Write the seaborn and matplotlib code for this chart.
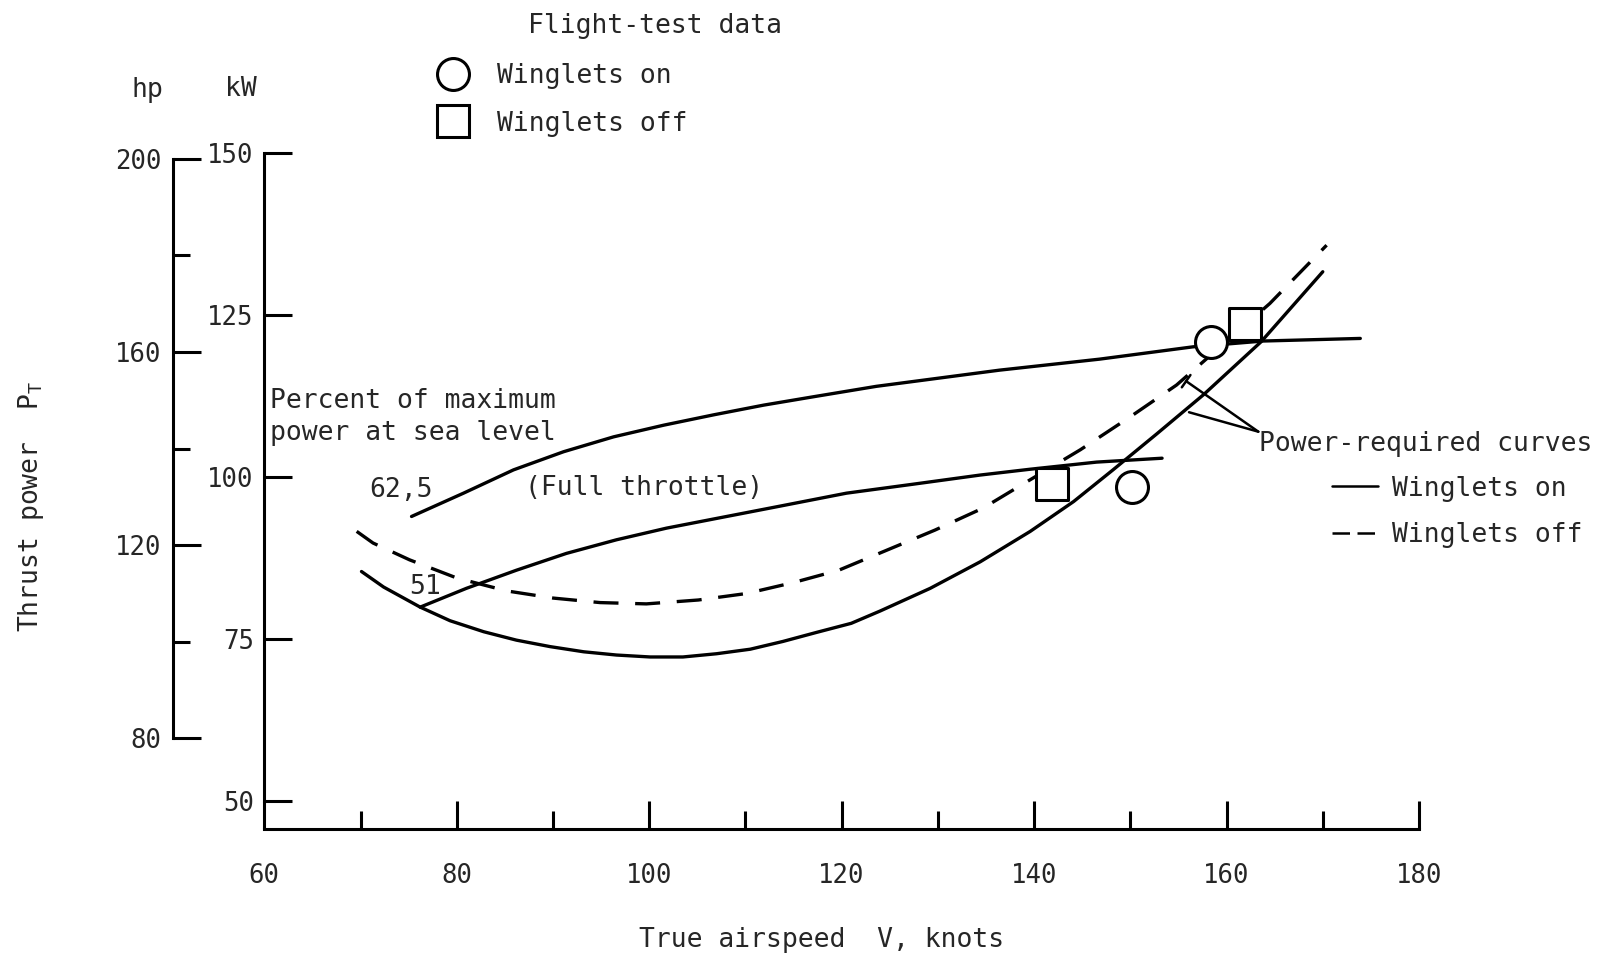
import seaborn as sns
import matplotlib.pyplot as plt
from matplotlib.lines import Line2D

# full-throttle power available, 62.5 percent of max power (knots, kW)
avail_625_v = [75.3, 80.7, 85.9, 91.1, 96.3, 101.5, 106.7, 111.9, 117.1, 123.6, 136.4, 146.8, 156.5, 163.8, 173.9]
avail_625_p = [93.9, 97.5, 101.1, 103.9, 106.2, 108.0, 109.6, 111.1, 112.4, 114.0, 116.5, 118.2, 120.1, 121.0, 121.4]

# full-throttle power available, 51 percent
avail_51_v = [76.2, 81.0, 86.2, 91.4, 96.6, 101.8, 107.0, 113.6, 120.5, 127.5, 134.4, 139.6, 146.5, 153.3]
avail_51_p = [79.9, 82.8, 85.6, 88.2, 90.3, 92.1, 93.6, 95.5, 97.5, 98.9, 100.3, 101.2, 102.3, 102.9]

# power-required curves
req_on_v = [70.1, 72.4, 76.2, 79.3, 82.8, 86.2, 89.7, 93.2, 96.6, 100.1, 103.5, 107.0, 110.5, 113.9,
            117.4, 121.0, 124.0, 129.2, 134.4, 139.6, 144.1, 148.2, 152.7, 157.6, 163.6, 170.0]
req_on_p = [85.4, 83.0, 79.9, 77.8, 76.1, 74.8, 73.8, 73.0, 72.5, 72.2, 72.2, 72.7, 73.4, 74.6,
            76.0, 77.4, 79.3, 82.8, 86.9, 91.6, 96.2, 101.1, 106.6, 112.7, 120.9, 131.7]
req_off_v = [69.6, 71.3, 75.1, 80.0, 85.2, 90.0, 94.9, 99.7, 105.1, 110.1, 115.0, 119.7, 124.7,
             129.7, 134.7, 138.5, 144.8, 150.0, 154.8, 164.5, 170.4]
req_off_p = [91.6, 89.8, 87.2, 84.4, 82.4, 81.3, 80.6, 80.4, 81.0, 82.0, 83.7, 85.6, 88.7,
             91.8, 95.2, 98.6, 104.2, 109.3, 114.2, 126.8, 135.8]

# flight-test data
test_on_v = [158.4, 150.2]
test_on_p = [120.9, 98.4]
test_off_v = [161.9, 141.9]
test_off_p = [123.6, 98.9]

KW_PER_HP = 0.7457

sns.set_theme(style="ticks")
plt.rcParams['font.family'] = ['DejaVu Sans Mono', 'DejaVu Sans']
plt.rcParams['mathtext.default'] = 'regular'

fig = plt.figure(figsize=(16.01, 9.58), dpi=100)
W, H = 1601, 958
ax = fig.add_axes([0.16509, 0.13445, 0.72123, 0.70557])

lw = 2.4
for v, p in [(avail_625_v, avail_625_p), (avail_51_v, avail_51_p), (req_on_v, req_on_p)]:
    sns.lineplot(x=v, y=p, ax=ax, color='black', lw=lw, sort=False, estimator=None, legend=False)
sns.lineplot(x=req_off_v, y=req_off_p, ax=ax, color='black', lw=lw, linestyle=(0, (7.5, 5)),
             sort=False, estimator=None, legend=False)

ms = 23
sns.scatterplot(x=test_on_v, y=test_on_p, ax=ax, marker='o', s=ms ** 2, color='white',
                edgecolor='black', linewidth=2.2, zorder=5, legend=False)
sns.scatterplot(x=test_off_v, y=test_off_p, ax=ax, marker='s', s=ms ** 2, color='white',
                edgecolor='black', linewidth=2.2, zorder=5, legend=False)

# axes
ax.set_xlim(60, 180)
ax.set_ylim(45.6, 150)
sns.despine(ax=ax)
ax.spines['left'].set_bounds(50, 150)
for s in ['left', 'bottom']:
    ax.spines[s].set_linewidth(2.2)
    ax.spines[s].set_color('black')
ax.set_xticks(range(60, 181, 20))
ax.set_xticks(range(70, 180, 20), minor=True)
ax.set_yticks([50, 75, 100, 125, 150])
ax.tick_params(which='major', direction='in', length=20, width=2.2, labelsize=18.5, color='black')
ax.tick_params(axis='x', which='minor', direction='in', length=13, width=2.2, color='black')
ax.tick_params(axis='x', pad=24)
ax.tick_params(axis='y', pad=7.5)

# hp scale
hp_ax = ax.secondary_yaxis(-0.0793, functions=(lambda kw: kw / KW_PER_HP, lambda hp: hp * KW_PER_HP))
hp_ax.set_yticks([80, 120, 160, 200])
hp_ax.set_yticks([100, 140, 180], minor=True)
hp_ax.spines['left'].set_bounds(80, 200)
hp_ax.spines['left'].set_linewidth(2.2)
hp_ax.spines['left'].set_color('black')
hp_ax.tick_params(which='major', direction='in', length=20, width=2.2, labelsize=18.5, pad=8, color='black')
hp_ax.tick_params(which='minor', direction='in', length=12, width=2.2, color='black')

fs = 19
fig.text(131.6 / W, 1 - 96.7 / H, 'hp', fontsize=fs, va='baseline')
fig.text(224.5 / W, 1 - 96 / H, 'kW', fontsize=fs, va='baseline')
fig.text(528 / W, 1 - 33.3 / H, 'Flight-test data', fontsize=fs, va='baseline')
fig.text(30.5 / W, 1 - 506 / H, 'Thrust power  P$_T$', fontsize=fs, rotation=90, ha='center', va='center')
fig.text(821.6 / W, 1 - 940 / H, 'True airspeed  V, knots', fontsize=fs, ha='center', va='center')

# flight-test legend
marker_handles = [
    Line2D([], [], marker='o', ls='none', ms=ms, mfc='white', mec='black', mew=2.2),
    Line2D([], [], marker='s', ls='none', ms=ms, mfc='white', mec='black', mew=2.2),
]
leg1 = ax.legend(handles=marker_handles, labels=['Winglets on', 'Winglets off'], loc='upper left',
                 bbox_to_anchor=(439.4 / W, 1 - 63 / H), bbox_transform=fig.transFigure,
                 frameon=False, fontsize=fs, handlelength=1.0, handletextpad=1.18,
                 labelspacing=0.82, borderpad=0, borderaxespad=0)
ax.add_artist(leg1)

# power-required legend
line_handles = [
    Line2D([], [], color='black', lw=1.8),
    Line2D([], [], color='black', lw=1.8, ls=(0, (7, 3))),
]
ax.legend(handles=line_handles, labels=['Winglets on', 'Winglets off'], loc='upper left',
          bbox_to_anchor=(1332 / W, 1 - 475.5 / H), bbox_transform=fig.transFigure,
          frameon=False, fontsize=fs, handlelength=1.74, handletextpad=0.53,
          labelspacing=0.78, borderpad=0, borderaxespad=0)

ax.text(163.4, 104.0, 'Power-required curves', fontsize=fs, va='baseline')
ax.annotate('', xy=(155.8, 114.8), xytext=(163.3, 107.0),
            arrowprops=dict(arrowstyle='-[, widthB=0.45, lengthB=0', lw=1.8, color='black',
                            shrinkA=0, shrinkB=0))
ax.annotate('', xy=(156.1, 110.0), xytext=(163.3, 107.0),
            arrowprops=dict(arrowstyle='-', lw=1.8, color='black', shrinkA=0, shrinkB=0))

ax.text(60.56, 110.6, 'Percent of maximum', fontsize=fs, va='baseline')
ax.text(60.56, 105.7, 'power at sea level', fontsize=fs, va='baseline')
ax.text(70.9, 96.9, '62,5', fontsize=fs, va='baseline')
ax.text(75.04, 81.9, '51', fontsize=fs, va='baseline')
ax.text(87.1, 97.2, '(Full throttle)', fontsize=fs, va='baseline')

fig.savefig('out.png', dpi=100)
